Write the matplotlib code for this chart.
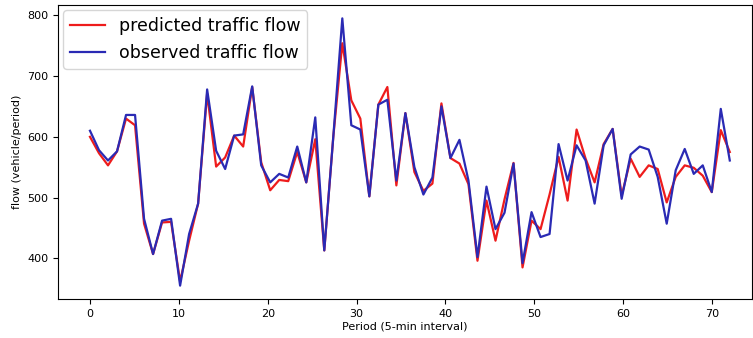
import numpy as np
import matplotlib
matplotlib.use("Agg")
import matplotlib.pyplot as plt

plt.rcParams.update({'font.family': 'DejaVu Sans'})

# values (72 samples spread over 0..72)
predicted = [600, 573, 553, 576, 630, 619, 457, 407, 459, 460,
             362, 429, 490, 671, 551, 566, 602, 584, 682, 558,
             512, 529, 527, 575, 525, 596, 413, 600, 754, 660,
             630, 502, 653, 682, 520, 639, 542, 511, 523, 655,
             565, 556, 522, 396, 495, 429, 497, 557, 385, 462,
             448, 505, 567, 495, 612, 564, 525, 588, 613, 503,
             564, 534, 553, 547, 492, 534, 553, 549, 536, 509,
             611, 575]
observed = [610, 578, 561, 576, 636, 636, 465, 407, 462, 465,
            355, 440, 490, 678, 577, 547, 602, 604, 683, 553,
            525, 539, 533, 584, 525, 632, 413, 600, 795, 619,
            612, 502, 653, 661, 528, 639, 550, 505, 533, 650,
            565, 595, 528, 402, 518, 448, 475, 556, 392, 476,
            435, 440, 588, 528, 586, 561, 490, 586, 613, 498,
            571, 584, 579, 534, 457, 545, 580, 539, 553, 509,
            646, 561]
period = np.linspace(0, 72, len(observed))

fig = plt.figure(figsize=(7.53, 3.38), dpi=100)
ax = fig.add_axes([58/753, 39/338, 694/753, 294/338])

ax.plot(period, predicted, color='#ee1c1c', lw=1.6, label='predicted traffic flow')
ax.plot(period, observed, color='#2a2ab4', lw=1.6, label='observed traffic flow')

ax.set_xlim(-3.6, 74.5)
ax.set_xticks([0, 10, 20, 30, 40, 50, 60, 70])
ax.set_yticks([400, 500, 600, 700, 800])
ax.tick_params(labelsize=8)
ax.set_xlabel('Period (5-min interval)', fontsize=8, labelpad=2)
ax.set_ylabel('flow (vehicle/period)', fontsize=8, labelpad=4)

ax.legend(loc='upper left', fontsize=12.5, handlelength=2.0, borderaxespad=0.3)

fig.savefig("out.png", dpi=100, facecolor='white')
